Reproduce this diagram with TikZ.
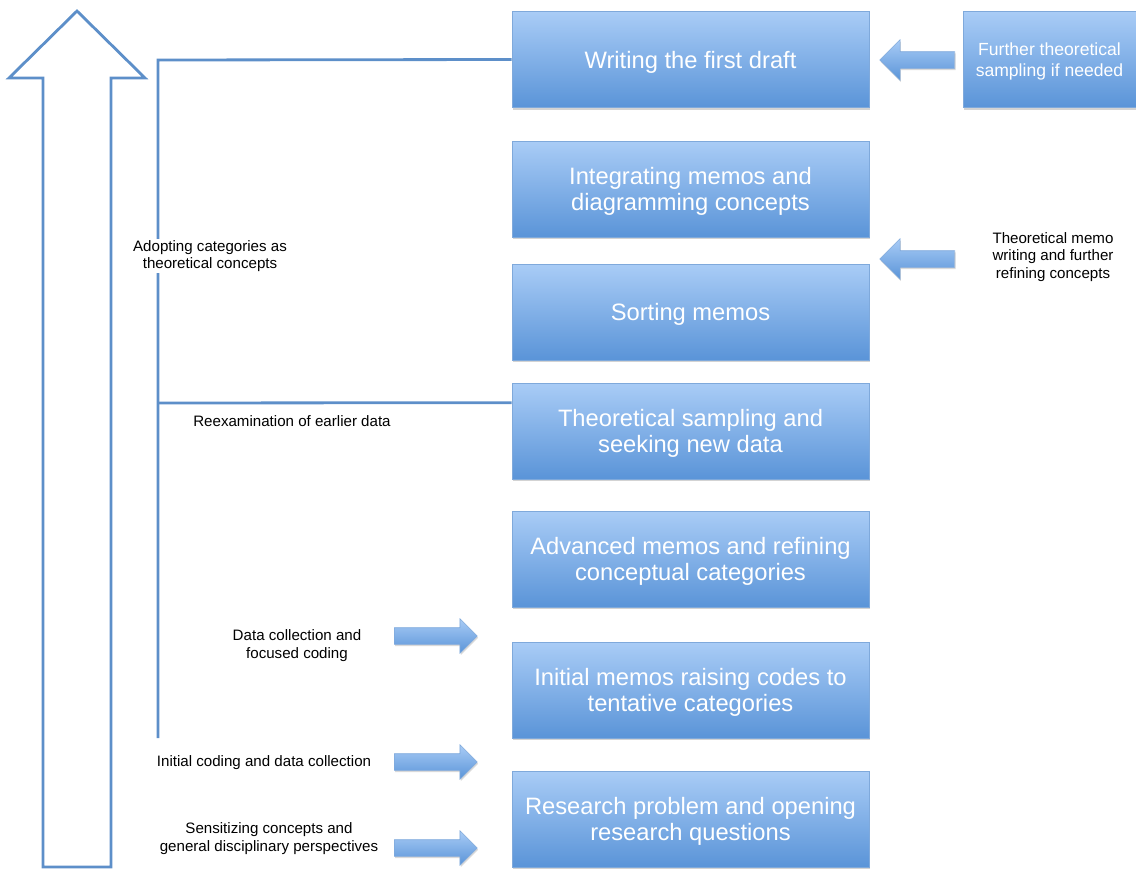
\documentclass[tikz,border=0pt]{standalone}
\usepackage{fontspec}
\setmainfont{Liberation Sans}
\usetikzlibrary{shapes.arrows, shadows}

\definecolor{boxtop}{HTML}{A9CCF6}
\definecolor{boxbot}{HTML}{5A94D8}
\definecolor{boxedge}{HTML}{7FA9DB}
\definecolor{linkblue}{HTML}{5D8FC9}

\tikzset{
  stage/.style={draw=boxedge, line width=0.4pt, top color=boxtop, bottom color=boxbot,
    minimum width=7.14cm, minimum height=1.92cm, inner sep=0pt, text=white, align=center,
    text depth=-1pt, font=\fontsize{13.5}{15}\selectfont,
    drop shadow={opacity=0.35, shadow xshift=0.6pt, shadow yshift=-1.2pt}},
  sidebox/.style={stage, minimum width=3.46cm, text depth=-0.8pt, font=\fontsize{10}{12}\selectfont},
  note/.style={align=center, inner sep=1pt, font=\fontsize{8.6}{9.8}\selectfont},
  link/.style={draw=linkblue, line width=1.6pt},
  blockarrow/.style={single arrow, draw=boxedge, line width=0.3pt, top color=boxtop, bottom color=boxbot,
    inner xsep=0pt, inner ysep=0.16cm, anchor=tail,
    drop shadow={opacity=0.3, shadow xshift=0.5pt, shadow yshift=-1pt}},
  toright/.style={blockarrow, minimum height=1.66cm, single arrow head extend=0.18cm},
  toleft/.style={blockarrow, shape border rotate=180, minimum height=1.5cm, single arrow head extend=0.24cm}
}

\begin{document}
\begin{tikzpicture}[x=0.02cm, y=-0.02cm]
\useasboundingbox (0,0) rectangle (1136,869);

% grosse Pfeil links
\draw[linkblue, line width=1.6pt, line join=miter] (43,867) -- (43,78) -- (9,78) -- (77,11) -- (145,78) -- (111,78) -- (111,867) -- cycle;

% Stufen
\node[stage] (draft) at (690.5,59.5) {Writing the first draft};
\node[stage] (integrate) at (690.5,189) {Integrating memos and\\diagramming concepts};
\node[stage] (sorting) at (690.5,312) {Sorting memos};
\node[stage] (sampling) at (690.5,431) {Theoretical sampling and\\seeking new data};
\node[stage] (advanced) at (690.5,559) {Advanced memos and refining\\conceptual categories};
\node[stage] (initial) at (690.5,690) {Initial memos raising codes to\\tentative categories};
\node[stage] (problem) at (690.5,819) {Research problem and opening\\research questions};

% rechte Seite
\node[sidebox] (further) at (1049.5,59.5) {Further theoretical\\sampling if needed};
\node[toleft] (arrfurther) at (955,60) {};
\node[toleft] (arrmemo) at (955,259) {};
\node[note] (memo) at (1053,257) {Theoretical memo\\writing and further\\refining concepts};

% Verbindungslinie links
\coordinate (spinetop) at (158,60);
\coordinate (spinebot) at (158,738);
\draw[link] (draft.west) -- (spinetop) -- (spinebot);
\draw[link] ([yshift=-0.4cm]sampling.north west) -- (spinetop |- 0,403);

% Beschriftungen links
\node[note, fill=white] (adopt) at (210,256) {Adopting categories as\\theoretical concepts};
\node[note] (reexam) at (292,421) {Reexamination of earlier data};
\node[note] (focused) at (297,645.5) {Data collection and\\focused coding};
\node[note] (coding) at (264,763) {Initial coding and data collection};
\node[note] (sensit) at (269,838.5) {Sensitizing concepts and\\general disciplinary perspectives};

% kleine Pfeile
\node[toright] (arrfocused) at (394,636) {};
\node[toright] (arrcoding) at (394,762) {};
\node[toright] (arrsensit) at (394,848) {};

\end{tikzpicture}
\end{document}
